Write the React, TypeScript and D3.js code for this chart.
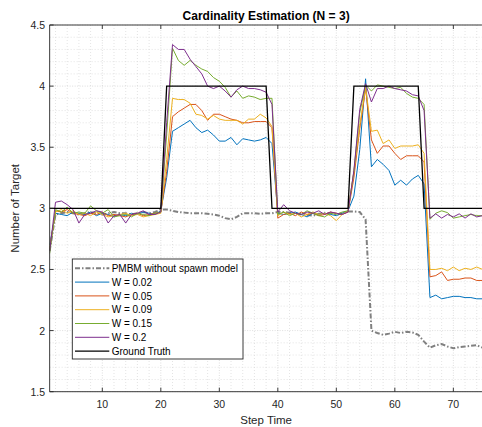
import React from 'react';
import * as d3 from 'd3';

// step index 1..75
const steps = d3.range(1, 76);

const xTicks = [10, 20, 30, 40, 50, 60, 70];
const yTicks = [1.5, 2, 2.5, 3, 3.5, 4, 4.5];

const groundTruth = [
  3, 3, 3, 3, 3, 3, 3, 3, 3, 3, 3, 3, 3, 3, 3, 3, 3, 3, 3, 3,
  4, 4, 4, 4, 4, 4, 4, 4, 4, 4, 4, 4, 4, 4, 4, 4, 4, 4,
  3, 3, 3, 3, 3, 3, 3, 3, 3, 3, 3, 3, 3, 3,
  4, 4, 4, 4, 4, 4, 4, 4, 4, 4, 4, 4,
  3, 3, 3, 3, 3, 3, 3, 3, 3, 3, 3,
];

const pmbm = [
  2.65, 2.95, 2.96, 2.97, 2.96, 2.95, 2.96, 2.97, 2.96, 2.95, 2.96, 2.97, 2.96, 2.96, 2.95, 2.96, 2.97, 2.96, 2.97, 2.99,
  2.99, 2.98, 2.97, 2.965, 2.96, 2.96, 2.96, 2.955, 2.95, 2.94, 2.92, 2.91, 2.93, 2.96, 2.96, 2.96, 2.955, 2.96, 2.96,
  2.97, 2.97, 2.965, 2.96, 2.95, 2.945, 2.94, 2.955, 2.96, 2.96, 2.95, 2.96, 2.975, 2.975, 2.97,
  2.91, 2.0, 1.98, 1.965, 1.975, 1.99, 1.98, 1.99, 1.985, 1.965,
  1.91, 1.86, 1.88, 1.89, 1.87, 1.855, 1.865, 1.87, 1.875, 1.88, 1.86,
];

const w002 = [
  2.70, 2.96, 2.95, 2.94, 2.97, 2.96, 2.95, 2.97, 2.94, 2.96, 2.95, 2.93, 2.95, 2.94, 2.96, 2.95, 2.97, 2.96, 2.95, 2.98,
  3.25, 3.63, 3.66, 3.69, 3.72, 3.66, 3.62, 3.64, 3.60, 3.55, 3.55, 3.58, 3.52, 3.57, 3.56, 3.55, 3.56, 3.58, 3.53,
  2.96, 2.95, 2.96, 2.97, 2.95, 2.93, 2.96, 2.95, 2.96, 2.95, 2.94, 2.96, 2.98,
  3.10, 3.48, 4.06, 3.34, 3.40, 3.36, 3.31, 3.19, 3.23, 3.19, 3.24, 3.27, 3.20,
  2.27, 2.29, 2.26, 2.27, 2.28, 2.28, 2.27, 2.27, 2.26, 2.26,
];

const w005 = [
  2.66, 2.98, 2.97, 2.99, 2.96, 2.95, 2.94, 2.96, 2.95, 2.97, 2.94, 2.95, 2.94, 2.93, 2.95, 2.96, 2.94, 2.95, 2.96, 2.97,
  3.30, 3.75, 3.79, 3.82, 3.85, 3.85, 3.80, 3.72, 3.77, 3.77, 3.75, 3.73, 3.72, 3.70, 3.70, 3.71, 3.71, 3.71, 3.66,
  2.92, 2.95, 2.96, 2.94, 2.97, 2.95, 2.96, 2.94, 2.95, 2.97, 2.96, 2.95, 2.97,
  3.25, 3.65, 3.98, 3.56, 3.45, 3.51, 3.51, 3.45, 3.40, 3.43, 3.43, 3.43, 3.38,
  2.44, 2.45, 2.48, 2.41, 2.42, 2.42, 2.43, 2.43, 2.41, 2.41,
];

const w009 = [
  2.68, 2.97, 2.99, 2.96, 2.98, 2.95, 2.96, 2.94, 2.97, 2.95, 2.93, 2.94, 2.95, 2.96, 2.94, 2.95, 2.93, 2.94, 2.95, 2.96,
  3.40, 3.90, 3.89, 3.89, 3.86, 3.77, 3.76, 3.73, 3.76, 3.73, 3.72, 3.72, 3.72, 3.69, 3.73, 3.73, 3.77, 3.74, 3.67,
  2.94, 2.97, 2.95, 2.96, 2.93, 2.95, 2.97, 2.95, 2.96, 2.94, 2.90, 2.95, 2.98,
  3.30, 3.68, 3.99, 3.63, 3.64, 3.53, 3.56, 3.49, 3.51, 3.51, 3.51, 3.52, 3.45,
  2.50, 2.50, 2.51, 2.49, 2.52, 2.49, 2.51, 2.50, 2.52, 2.50,
];

const w015 = [
  2.63, 2.99, 2.97, 3.01, 2.96, 2.97, 2.96, 3.02, 2.98, 2.96, 2.99, 2.93, 2.94, 2.95, 2.93, 2.96, 2.95, 2.94, 2.96, 2.97,
  3.60, 4.31, 4.21, 4.17, 4.21, 4.17, 4.14, 4.12, 4.07, 4.04, 3.99, 3.91, 3.96, 3.90, 3.92, 3.91, 3.89, 3.90, 3.90,
  2.95, 2.97, 2.94, 2.96, 2.95, 2.98, 2.96, 2.94, 2.93, 2.96, 2.95, 2.97, 2.98,
  3.30, 3.78, 4.01, 3.96, 4.01, 4.00, 3.99, 3.98, 3.99, 3.94, 3.91, 3.90, 3.85,
  2.91, 2.96, 2.98, 2.965, 2.92, 2.93, 2.94, 2.95, 2.94, 2.94,
];

const w02 = [
  2.65, 3.05, 3.06, 3.03, 2.99, 2.88, 2.95, 2.96, 2.98, 2.97, 2.88, 2.94, 2.95, 2.88, 2.95, 2.96, 2.98, 2.95, 2.95, 2.97,
  3.70, 4.34, 4.30, 4.30, 4.22, 4.16, 4.10, 4.00, 3.98, 4.00, 3.96, 3.91, 3.97, 4.00, 3.98, 3.98, 3.97, 3.95, 3.85,
  2.97, 3.03, 2.98, 2.96, 2.95, 2.97, 2.96, 2.98, 2.95, 2.97, 2.96, 2.95, 2.97,
  3.31, 3.81, 4.02, 3.87, 3.98, 3.98, 4.00, 3.98, 3.97, 3.96, 3.93, 3.92, 3.80,
  2.92, 2.955, 2.92, 2.95, 2.93, 2.955, 2.92, 2.955, 2.93, 2.94,
];

const weightSeries = [
  { name: 'W = 0.02', color: '#0072BD', values: w002 },
  { name: 'W = 0.05', color: '#D95319', values: w005 },
  { name: 'W = 0.09', color: '#EDB120', values: w009 },
  { name: 'W = 0.15', color: '#77AC30', values: w015 },
  { name: 'W = 0.2', color: '#7E2F8E', values: w02 },
];

const font = '"Liberation Sans", Arial, Helvetica, sans-serif';
const ink = '#262626';

export default function App() {
  const width = 482, height = 427;
  const left = 49.65, right = 482.6, top = 25, bottom = 391.7;

  const x = d3.scaleLinear().domain([1, 75]).range([left, right]);
  const y = d3.scaleLinear().domain([1.5, 4.5]).range([bottom, top]);

  const line = d3.line<number>()
    .x((d, i) => x(steps[i]))
    .y(d => y(d));

  const minorX = d3.range(2, 76, 2).filter(v => v % 10 !== 0);
  const minorY = d3.range(16, 45).map(v => v / 10).filter(v => Math.round(v * 10) % 5 !== 0);

  const legendItems = [
    { name: 'PMBM without spawn model', color: '#808080', width: 2, dash: '5,2,1.5,2' },
    ...weightSeries.map(s => ({ name: s.name, color: s.color, width: 1, dash: undefined as string | undefined })),
    { name: 'Ground Truth', color: '#000000', width: 1.3, dash: undefined },
  ];

  const lgX = 72.3, lgY = 259, lgW = 170.7, lgH = 100;

  return (
    <svg width={width} height={height} style={{ position: 'absolute', left: 0, top: 0, background: '#fff' }}
      fontFamily={font}>
      <defs>
        <clipPath id="plot-clip">
          <rect x={left} y={top} width={right - left} height={bottom - top} />
        </clipPath>
      </defs>
      <rect x={0} y={0} width={width} height={height} fill="#fff" />

      {/* minor grid */}
      <g stroke="#d2d2d2" strokeWidth={0.6} strokeDasharray="1,2">
        {minorX.map(v => <line key={'mx' + v} x1={x(v)} x2={x(v)} y1={top} y2={bottom} />)}
        {minorY.map(v => <line key={'my' + v} x1={left} x2={right} y1={y(v)} y2={y(v)} />)}
      </g>
      {/* major grid */}
      <g stroke="#c8c8c8" strokeWidth={0.6} strokeDasharray="1,1.5">
        {xTicks.map(v => <line key={'gx' + v} x1={x(v)} x2={x(v)} y1={top} y2={bottom} />)}
        {yTicks.map(v => <line key={'gy' + v} x1={left} x2={right} y1={y(v)} y2={y(v)} />)}
      </g>

      <g clipPath="url(#plot-clip)" fill="none">
        <path d={line(pmbm) || ''} stroke="#808080" strokeWidth={2} strokeDasharray="5,2,1.5,2" />
        {weightSeries.map(s => (
          <path key={s.name} d={line(s.values) || ''} stroke={s.color} strokeWidth={1} strokeLinejoin="round" />
        ))}
        <path d={line(groundTruth) || ''} stroke="#000" strokeWidth={1.3} />
      </g>

      {/* axes */}
      <g stroke={ink} strokeWidth={0.9} fill="none">
        <line x1={left} x2={left} y1={top} y2={bottom} />
        <line x1={left} x2={right} y1={top} y2={top} />
        <line x1={left} x2={right} y1={bottom} y2={bottom} />
        {xTicks.map(v => <line key={'tb' + v} x1={x(v)} x2={x(v)} y1={bottom} y2={bottom - 4} />)}
        {xTicks.map(v => <line key={'tt' + v} x1={x(v)} x2={x(v)} y1={top} y2={top + 4} />)}
        {yTicks.map(v => <line key={'tl' + v} x1={left} x2={left + 4} y1={y(v)} y2={y(v)} />)}
      </g>

      <g fill={ink} fontSize={10.5}>
        {xTicks.map(v => (
          <text key={'xl' + v} x={x(v)} y={408} textAnchor="middle">{v}</text>
        ))}
        {yTicks.map(v => (
          <text key={'yl' + v} x={45} y={y(v) + 4} textAnchor="end">{v}</text>
        ))}
      </g>

      <text x={(left + right) / 2} y={424} textAnchor="middle" fontSize={11.5} fill={ink}>Step Time</text>
      <text transform={`translate(19,${y(3)}) rotate(-90)`} textAnchor="middle" fontSize={11.5} fill={ink}>
        Number of Target
      </text>
      <text x={(left + right) / 2} y={20} textAnchor="middle" fontSize={12} fontWeight="bold" fill="#000">
        Cardinality Estimation (N = 3)
      </text>

      {/* legend */}
      <g>
        <rect x={lgX} y={lgY} width={lgW} height={lgH} fill="#fff" stroke={ink} strokeWidth={0.9} />
        {legendItems.map((it, i) => {
          const cy = 268.3 + i * 13.8;
          return (
            <g key={it.name}>
              <line x1={75} x2={109.3} y1={cy} y2={cy} stroke={it.color} strokeWidth={it.width}
                strokeDasharray={it.dash} />
              <text x={111.7} y={cy + 3.6} fontSize={10} fill="#000">{it.name}</text>
            </g>
          );
        })}
      </g>
    </svg>
  );
}
